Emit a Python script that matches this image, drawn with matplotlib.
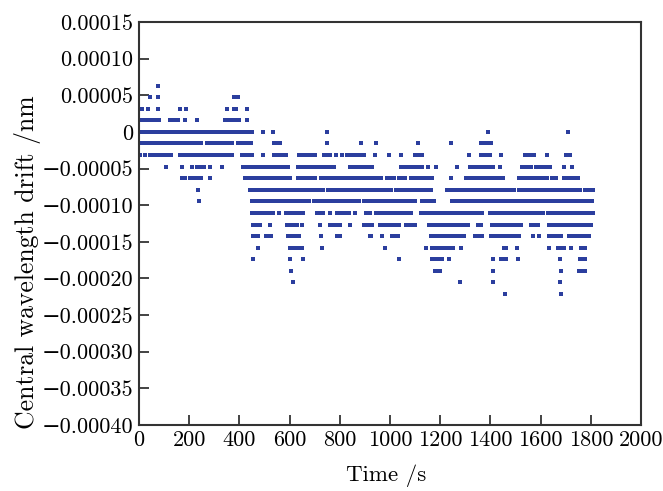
import numpy as np
import matplotlib
matplotlib.use("Agg")
import matplotlib.pyplot as plt

# Quantized drift levels (nm) and the time runs (s) where samples sit on each level
levels = [6.32e-5, 4.74e-5, 3.16e-5, 1.58e-5, 0.0, -1.58e-5, -3.16e-5, -4.74e-5,
          -6.32e-5, -7.90e-5, -9.48e-5, -1.106e-4, -1.264e-4, -1.422e-4,
          -1.580e-4, -1.738e-4, -1.896e-4, -2.054e-4, -2.212e-4]

runs = [
    [(77, 77)],
    [(45, 45), (77, 77), (379, 394)],
    [(11, 11), (37, 37), (77, 77), (164, 164), (186, 186), (350, 350), (380, 387), (432, 432)],
    [(8, 17), (28, 57), (66, 80), (124, 157), (184, 184), (231, 231), (343, 363), (378, 399), (430, 430)],
    [(3, 237), (246, 436), (450, 450), (496, 496), (533, 533), (749, 749), (1391, 1391), (1710, 1710)],
    [(3, 31), (44, 74), (84, 150), (157, 184), (190, 234), (246, 246), (270, 330), (343, 357),
     (370, 370), (394, 447), (539, 563), (749, 749), (886, 886), (945, 945), (1113, 1113),
     (1242, 1242), (1361, 1401)],
    [(3, 3), (24, 24), (44, 70), (80, 110), (128, 128), (164, 310), (323, 343), (357, 370),
     (412, 452), (494, 494), (536, 587), (636, 703), (739, 762), (783, 783), (809, 809),
     (829, 862), (878, 896), (942, 942), (995, 995), (1045, 1045), (1099, 1128), (1315, 1315),
     (1361, 1399), (1444, 1444), (1538, 1558), (1574, 1574), (1625, 1625), (1701, 1718)],
    [(106, 106), (170, 170), (210, 210), (230, 259), (283, 283), (330, 330), (416, 510),
     (520, 592), (632, 716), (729, 762), (778, 778), (840, 929), (1042, 1069), (1079, 1128),
     (1152, 1152), (1184, 1184), (1268, 1268), (1319, 1412), (1437, 1437), (1525, 1561),
     (1581, 1638), (1694, 1694), (1727, 1727)],
    [(170, 183), (203, 250), (283, 283), (423, 510), (519, 603), (633, 703), (725, 882),
     (893, 953), (965, 965), (989, 1015), (1035, 1062), (1082, 1128), (1142, 1166),
     (1242, 1242), (1301, 1452), (1514, 1627), (1645, 1661), (1694, 1750)],
    [(237, 237), (443, 603), (616, 676), (683, 736), (753, 1006), (1025, 1105), (1119, 1166),
     (1228, 1470), (1484, 1497), (1514, 1674), (1681, 1758), (1777, 1807)],
    [(241, 241), (450, 539), (552, 600), (613, 680), (696, 743), (756, 842), (856, 876),
     (896, 935), (945, 1102), (1126, 1175), (1248, 1365), (1377, 1434), (1445, 1545),
     (1554, 1807)],
    [(452, 454), (470, 533), (556, 556), (587, 656), (709, 736), (762, 762), (789, 836),
     (862, 862), (906, 922), (945, 1046), (1059, 1086), (1122, 1368), (1399, 1534),
     (1544, 1601), (1610, 1610), (1630, 1630), (1647, 1807)],
    [(453, 483), (523, 523), (589, 629), (649, 649), (722, 722), (762, 802), (840, 840),
     (896, 931), (959, 1035), (1062, 1098), (1155, 1312), (1351, 1351), (1361, 1361),
     (1408, 1521), (1561, 1590), (1634, 1803)],
    [(454, 476), (507, 526), (592, 636), (725, 725), (789, 802), (919, 926), (969, 969),
     (1006, 1031), (1162, 1255), (1268, 1295), (1337, 1368), (1404, 1514), (1571, 1571),
     (1594, 1594), (1632, 1681), (1714, 1794)],
    [(476, 476), (603, 649), (729, 729), (982, 982), (1142, 1142), (1168, 1251), (1282, 1282),
     (1454, 1465), (1505, 1505), (1634, 1634), (1670, 1694), (1721, 1721), (1761, 1777)],
    [(455, 456), (600, 600), (652, 652), (1035, 1035), (1168, 1208), (1235, 1235),
     (1412, 1412), (1444, 1465), (1508, 1508), (1678, 1678), (1758, 1777)],
    [(605, 605), (1179, 1202), (1412, 1412), (1683, 1683), (1754, 1777)],
    [(612, 612), (1279, 1279), (1412, 1412), (1678, 1678)],
    [(1458, 1458), (1681, 1681)],
]

sample_interval = 2  # s between samples within a run

x_ticks = [0, 200, 400, 600, 800, 1000, 1200, 1400, 1600, 1800, 2000]
y_ticks = [0.00015, 0.00010, 0.00005, 0.0, -0.00005, -0.00010, -0.00015, -0.00020,
           -0.00025, -0.00030, -0.00035, -0.00040]
y_tick_labels = ["0.00015", "0.00010", "0.00005", "0", "\u22120.00005", "\u22120.00010",
                 "\u22120.00015", "\u22120.00020", "\u22120.00025", "\u22120.00030",
                 "\u22120.00035", "\u22120.00040"]

times, drifts = [], []
for lev, rl in zip(levels, runs):
    for a, b in rl:
        t = np.arange(a, b + 0.1, sample_interval)
        times.extend(t)
        drifts.extend([lev] * len(t))

plt.rcParams['font.family'] = ['cmr10', 'DejaVu Serif']
plt.rcParams['axes.unicode_minus'] = True

fig = plt.figure(figsize=(6.63, 4.91), dpi=100)
ax = fig.add_axes([139 / 663, 1 - 425 / 491, (641 - 139) / 663, (425 - 22) / 491])
ax.plot(times, drifts, linestyle='none', marker='s', markersize=2.4,
        markeredgewidth=0, color='#2B3E9E')

ax.set_xlim(0, 2000)
ax.set_ylim(-0.0004, 0.00015)
ax.set_xticks(x_ticks)
ax.set_xticklabels([str(v) for v in x_ticks])
ax.set_yticks(y_ticks)
ax.set_yticklabels(y_tick_labels)
ax.tick_params(direction='in', length=7, width=1.2, labelsize=16, pad=4,
               top=False, right=False, color='#222222')
for s in ax.spines.values():
    s.set_linewidth(1.5)
    s.set_color('#333333')
ax.set_xlabel('Time /s', fontsize=16.5)
ax.set_ylabel('Central wavelength drift /nm', fontsize=18.5)
ax.xaxis.set_label_coords(0.492, -0.097)
ax.yaxis.set_label_coords(-0.196, 0.405)

fig.savefig('out.png', dpi=100)
